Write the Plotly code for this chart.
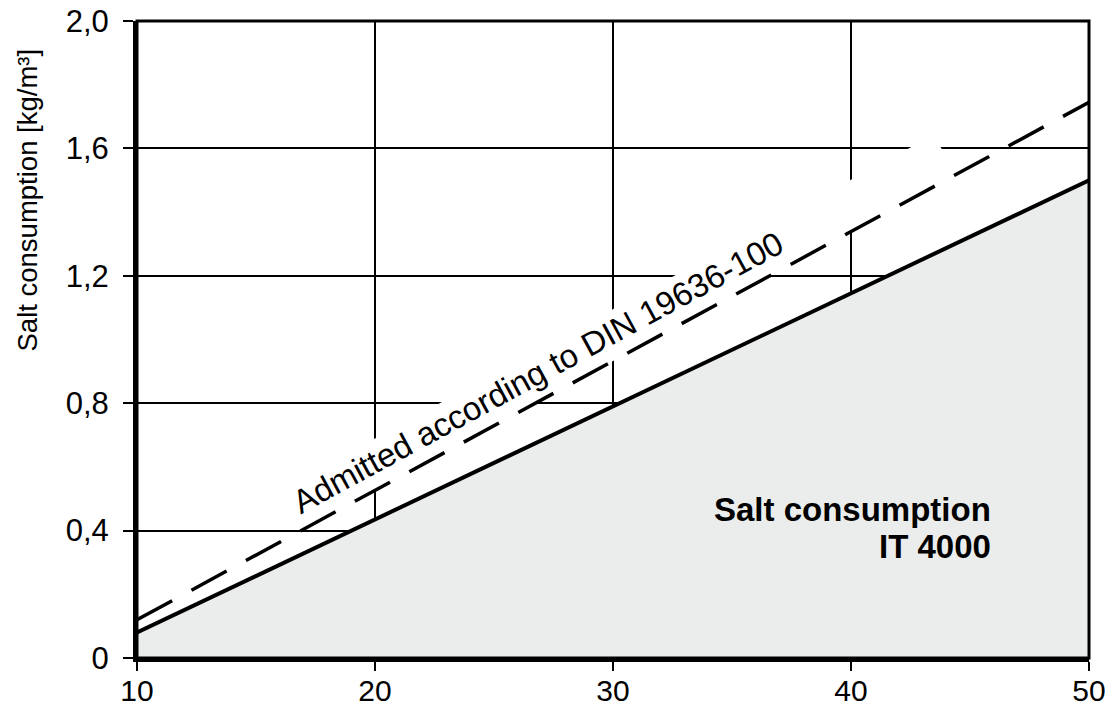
import numpy as np
import plotly.graph_objects as go

# ---- data ----
x_vals = [10, 50]
din_admitted = [0.12, 1.745]      # dashed: admitted according to DIN 19636-100
it4000 = [0.08, 1.50]             # solid: salt consumption IT 4000
x_ticks = [10, 20, 30, 40, 50]
y_ticks = [0, 0.4, 0.8, 1.2, 1.6, 2.0]
y_ticktext = ["0", "0,4", "0,8", "1,2", "1,6", "2,0"]

W, H = 1115, 709
ML, MR, MT, MB = 137, 26, 21, 51
PW, PH = W - ML - MR, H - MT - MB
XR = [10, 50]
YR = [0, 2.0]

FONT = "Liberation Sans, Arial, Helvetica, sans-serif"

# angle of the dashed line on screen
slope_px = ((din_admitted[1] - din_admitted[0]) / (YR[1] - YR[0]) * PH) / \
           ((x_vals[1] - x_vals[0]) / (XR[1] - XR[0]) * PW)
angle = np.degrees(np.arctan(slope_px))


def din_at(x):
    return float(np.interp(x, x_vals, din_admitted))


# white knockout band behind the label (hides gridlines)
band_h = 0.163
band_d = 0.917
xl, xr = 16.9, 44.4
band_x = [xl, xr, xr - band_d, xl - band_d, xl]
band_y = [din_at(xl), din_at(xr), din_at(xr - band_d) + band_h,
          din_at(xl - band_d) + band_h, din_at(xl)]

fig = go.Figure()

fig.add_trace(go.Scatter(x=band_x, y=band_y, fill="toself", fillcolor="white",
                         mode="none", hoverinfo="skip", showlegend=False))

fig.add_trace(go.Scatter(x=x_vals, y=it4000, mode="lines", fill="tozeroy",
                         fillcolor="#ebecec",
                         line=dict(color="black", width=4),
                         showlegend=False))

fig.add_trace(go.Scatter(x=x_vals, y=din_admitted, mode="lines",
                         line=dict(color="black", width=3.5, dash="40px,22px"),
                         showlegend=False))

annotations = [
    dict(x=26.84, y=0.895, xref="x", yref="y",
         text="Admitted according to DIN 19636-100", showarrow=False,
         textangle=-angle, xanchor="center", yanchor="middle",
         font=dict(family=FONT, size=33, color="black")),
    dict(x=45.95, y=0.465, xref="x", yref="y", text="<b>Salt consumption</b>",
         showarrow=False, xanchor="right", yanchor="middle",
         font=dict(family=FONT, size=33, color="black")),
    dict(x=45.95, y=0.35, xref="x", yref="y", text="<b>IT 4000</b>",
         showarrow=False, xanchor="right", yanchor="middle",
         font=dict(family=FONT, size=33, color="black")),
    dict(x=(27.5 - ML) / PW, y=(MT + PH - 200) / PH, xref="paper", yref="paper",
         text="Salt consumption [kg/m³]", showarrow=False, textangle=-90,
         xanchor="center", yanchor="middle",
         font=dict(family=FONT, size=27.5, color="black")),
]

fig.update_layout(
    width=W, height=H,
    margin=dict(l=ML, r=MR, t=MT, b=MB, pad=0, autoexpand=False),
    paper_bgcolor="white", plot_bgcolor="white",
    font=dict(family=FONT, size=31, color="black"),
    annotations=annotations,
    shapes=[dict(type="rect", xref="paper", yref="paper", x0=0, x1=1, y0=0, y1=1,
                 line=dict(color="black", width=3), layer="above")],
    xaxis=dict(range=XR, tickvals=x_ticks, ticktext=[str(v) for v in x_ticks],
               showgrid=True, gridcolor="black", gridwidth=2,
               showline=True, linecolor="black", linewidth=4,
               ticks="outside", ticklen=9, tickwidth=2, tickcolor="black",
               zeroline=False, fixedrange=True, automargin=False,
               ticklabelstandoff=-6,
               tickfont=dict(family=FONT, size=30, color="black")),
    yaxis=dict(range=YR, tickvals=y_ticks, ticktext=y_ticktext,
               showgrid=True, gridcolor="black", gridwidth=2,
               showline=True, linecolor="black", linewidth=4,
               ticks="outside", ticklen=10, tickwidth=2, tickcolor="black",
               zeroline=False, fixedrange=True, ticklabelstandoff=8,
               automargin=False,
               tickfont=dict(family=FONT, size=31, color="black")),
)

fig.write_html(
    "out.html",
    config={"displayModeBar": False},
    post_script="document.body.style.margin='0px';document.body.style.padding='0px';"
                "document.body.style.overflow='hidden';",
)
